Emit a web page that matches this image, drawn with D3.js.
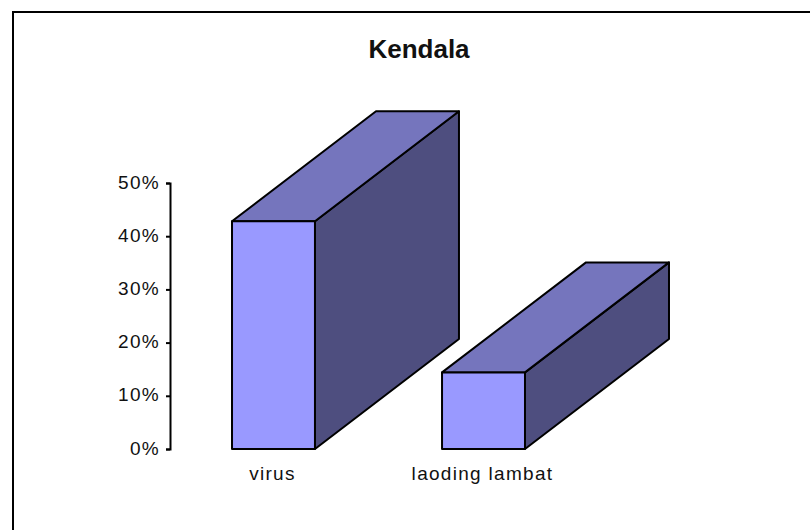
<!DOCTYPE html>
<html><head><meta charset="utf-8">
<script src="https://cdn.jsdelivr.net/npm/d3@7/dist/d3.min.js"></script>
<style>html,body{margin:0;padding:0;background:#fff}svg{display:block}text{font-family:"Liberation Sans",Arial,sans-serif;fill:#111}</style>
</head><body><svg id="c" width="810" height="530"></svg>
<script>
const chartTitle = "Kendala";
const categories = ["virus", "laoding lambat"];
const values = [0.428, 0.144];
const tickValues = [0, 0.1, 0.2, 0.3, 0.4, 0.5];

const svg = d3.select("#c");
svg.append("rect").attr("x",13).attr("y",12).attr("width",820).attr("height",540)
  .attr("fill","#fff").attr("stroke","#000").attr("stroke-width",2);
svg.append("text").attr("x",419).attr("y",57.5).attr("text-anchor","middle")
  .attr("font-size",26).attr("font-weight","bold").attr("fill","#000").text(chartTitle);

const y = d3.scaleLinear().domain([0,0.5]).range([449,183]);
const x = d3.scaleBand().domain(categories).range([168.5,588.5]).paddingInner(0.605).paddingOuter(0.3024);
const depthX = 144, depthY = -110;

const axis = d3.axisLeft(y).tickValues(tickValues).tickFormat(d3.format(".0%")).tickSize(4).tickSizeOuter(4).tickPadding(6);
const gA = svg.append("g").attr("transform","translate(170,0)").call(axis);
gA.selectAll("path,line").attr("stroke","#000").attr("stroke-width",2);
gA.selectAll("text").attr("font-size",19).attr("font-family",'"Liberation Sans"').attr("letter-spacing",1.3).attr("fill","#111").attr("dy","0.27em");

const bars = svg.append("g").selectAll("g").data(categories.map((c,i)=>({c,v:values[i]}))).join("g");
const poly = pts => pts.map(p=>p.join(",")).join(" ");
bars.each(function(d){
  const g = d3.select(this), x0 = x(d.c), x1 = x0 + x.bandwidth(), yt = y(d.v), yb = y(0);
  g.append("polygon").attr("points",poly([[x1,yt],[x1+depthX,yt+depthY],[x1+depthX,yb+depthY],[x1,yb]])).attr("fill","#4e4e7f");
  g.append("polygon").attr("points",poly([[x0,yt],[x0+depthX,yt+depthY],[x1+depthX,yt+depthY],[x1,yt]])).attr("fill","#7575bd");
  g.append("rect").attr("x",x0).attr("y",yt).attr("width",x1-x0).attr("height",yb-yt).attr("fill","#9999ff");
  g.selectAll("polygon,rect").attr("stroke","#000").attr("stroke-width",2).attr("stroke-linejoin","round");
});
svg.append("g").selectAll("text").data(categories).join("text")
  .attr("x",d=>x(d)+x.bandwidth()/2-1).attr("y",479.5).attr("text-anchor","middle")
  .attr("font-size",19).attr("letter-spacing",1.3).text(d=>d);
</script></body></html>
